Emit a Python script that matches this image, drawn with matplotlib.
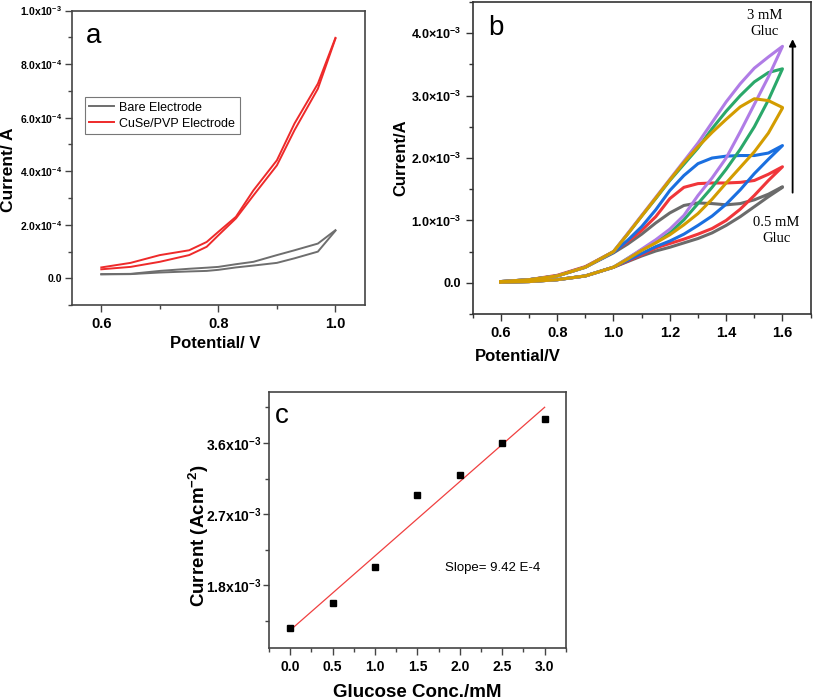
import numpy as np
import matplotlib
matplotlib.use("Agg")
import matplotlib.pyplot as plt
from matplotlib.ticker import MultipleLocator, FixedLocator, FixedFormatter

plt.rcParams['font.family'] = ['Liberation Sans', 'DejaVu Sans']
plt.rcParams['font.weight'] = 'bold'
plt.rcParams['axes.labelweight'] = 'bold'
plt.rcParams['mathtext.fontset'] = 'custom'
plt.rcParams['mathtext.rm'] = 'Liberation Sans'
plt.rcParams['mathtext.bf'] = 'Liberation Sans:bold'
plt.rcParams['mathtext.default'] = 'bf'

# ---- panel a: CV of bare vs CuSe/PVP electrode (current in A)
pot_a = [0.60, 0.65, 0.70, 0.75, 0.78, 0.80, 0.83, 0.86, 0.90, 0.93, 0.97, 1.00]
cuse_up = [4.1e-5, 5.8e-5, 8.7e-5, 1.05e-4, 1.36e-4, 1.74e-4, 2.30e-4, 3.29e-4, 4.41e-4, 5.78e-4, 7.27e-4, 8.98e-4]
cuse_dn = [3.4e-5, 4.3e-5, 6.2e-5, 8.7e-5, 1.18e-4, 1.61e-4, 2.24e-4, 3.10e-4, 4.22e-4, 5.53e-4, 7.08e-4, 8.95e-4]
bare_up = [1.6e-5, 1.7e-5, 2.8e-5, 3.6e-5, 4.0e-5, 4.3e-5, 5.3e-5, 6.2e-5, 8.7e-5, 1.05e-4, 1.30e-4, 1.80e-4]
bare_dn = [1.5e-5, 1.6e-5, 2.2e-5, 2.6e-5, 2.8e-5, 3.2e-5, 4.1e-5, 4.8e-5, 5.8e-5, 7.5e-5, 1.00e-4, 1.78e-4]
a_yticks = [0.0, 2e-4, 4e-4, 6e-4, 8e-4, 1e-3]
a_ylabels = ['0.0', r'2.0x10$^{-4}$', r'4.0x10$^{-4}$', r'6.0x10$^{-4}$', r'8.0x10$^{-4}$', r'1.0x10$^{-3}$']

# ---- panel b: CVs at increasing glucose (current in mA, upper / lower branch)
pot_b = [0.6, 0.7, 0.8, 0.9, 1.0, 1.05, 1.1, 1.15, 1.2, 1.25, 1.3, 1.35, 1.4, 1.45, 1.5, 1.55, 1.6]
gray_up = [0.02, 0.05, 0.11, 0.25, 0.48, 0.62, 0.78, 0.96, 1.12, 1.24, 1.28, 1.27, 1.25, 1.27, 1.33, 1.42, 1.54]
gray_dn = [0.01, 0.02, 0.05, 0.11, 0.25, 0.34, 0.43, 0.51, 0.57, 0.64, 0.71, 0.80, 0.92, 1.06, 1.22, 1.38, 1.53]
red_up = [0.02, 0.05, 0.12, 0.26, 0.50, 0.66, 0.84, 1.06, 1.35, 1.53, 1.59, 1.60, 1.60, 1.61, 1.64, 1.74, 1.86]
red_dn = [0.01, 0.02, 0.05, 0.11, 0.25, 0.35, 0.45, 0.56, 0.63, 0.70, 0.78, 0.87, 1.00, 1.18, 1.40, 1.64, 1.86]
blue_up = [0.02, 0.05, 0.11, 0.25, 0.49, 0.68, 0.90, 1.17, 1.48, 1.72, 1.91, 2.00, 2.03, 2.04, 2.04, 2.08, 2.20]
blue_dn = [0.01, 0.02, 0.05, 0.11, 0.25, 0.36, 0.47, 0.58, 0.67, 0.78, 0.92, 1.07, 1.26, 1.49, 1.75, 1.98, 2.20]
green_up = [0.02, 0.05, 0.11, 0.25, 0.50, 0.78, 1.07, 1.35, 1.64, 1.90, 2.16, 2.47, 2.75, 3.00, 3.22, 3.37, 3.43]
green_dn = [0.01, 0.02, 0.05, 0.11, 0.25, 0.39, 0.53, 0.65, 0.80, 1.01, 1.27, 1.53, 1.82, 2.14, 2.50, 2.93, 3.43]
purple_up = [0.02, 0.05, 0.11, 0.25, 0.50, 0.79, 1.08, 1.37, 1.66, 1.95, 2.24, 2.57, 2.90, 3.19, 3.44, 3.62, 3.79]
purple_dn = [0.01, 0.02, 0.05, 0.11, 0.25, 0.39, 0.54, 0.69, 0.86, 1.08, 1.40, 1.68, 2.00, 2.42, 2.86, 3.30, 3.79]
gold_up = [0.02, 0.05, 0.11, 0.25, 0.50, 0.78, 1.07, 1.36, 1.65, 1.93, 2.18, 2.41, 2.62, 2.82, 2.95, 2.92, 2.81]
gold_dn = [0.01, 0.02, 0.05, 0.11, 0.25, 0.38, 0.52, 0.64, 0.77, 0.93, 1.11, 1.34, 1.60, 1.85, 2.10, 2.40, 2.80]
b_yticks = [0.0, 1e-3, 2e-3, 3e-3, 4e-3]
b_ylabels = ['0.0', r'1.0×10$^{-3}$', r'2.0×10$^{-3}$', r'3.0×10$^{-3}$', r'4.0×10$^{-3}$']

# ---- panel c: calibration
gluc = [0.0, 0.5, 1.0, 1.5, 2.0, 2.5, 3.0]
cur_c = [1.253e-3, 1.572e-3, 2.024e-3, 2.94e-3, 3.198e-3, 3.60e-3, 3.90e-3]
c_yticks = [1.8e-3, 2.7e-3, 3.6e-3]
c_ylabels = [r'1.8x10$^{-3}$', r'2.7x10$^{-3}$', r'3.6x10$^{-3}$']

fig = plt.figure(figsize=(8.13, 7.0), dpi=100)

def style(ax, col='#333333'):
    for s in ax.spines.values():
        s.set_color(col)
        s.set_linewidth(1.2)
    ax.tick_params(which='both', direction='out', top=False, right=False, color=col, width=1.0)
    ax.tick_params(which='major', length=5)
    ax.tick_params(which='minor', length=3)

# panel a
ax1 = fig.add_axes([0.0886, 0.564, 0.360, 0.421])
ax1.plot(pot_a, bare_up, color='#6e6e6e', lw=1.4, label='Bare Electrode')
ax1.plot(pot_a, bare_dn, color='#6e6e6e', lw=1.4)
ax1.plot(pot_a, cuse_up, color='#ee2a2a', lw=1.4, label='CuSe/PVP Electrode')
ax1.plot(pot_a, cuse_dn, color='#ee2a2a', lw=1.4)
ax1.set_xlim(0.55, 1.05)
ax1.set_ylim(-1e-4, 1e-3)
ax1.xaxis.set_minor_locator(MultipleLocator(0.1))
ax1.yaxis.set_major_locator(FixedLocator(a_yticks))
ax1.yaxis.set_major_formatter(FixedFormatter(a_ylabels))
ax1.yaxis.set_minor_locator(MultipleLocator(1e-4))
ax1.set_xticks([0.6, 0.8, 1.0], ['0.6', '0.8', '1.0'])
style(ax1, '#444444')
ax1.tick_params(axis='x', labelsize=10.5)
ax1.tick_params(axis='y', labelsize=7.5, pad=2)
ax1.set_xlabel('Potential/ V', fontsize=12)
ax1.set_ylabel('Current/ A', fontsize=12.5)
ax1.xaxis.set_label_coords(0.49, -0.105)
ax1.yaxis.set_label_coords(-0.19, 0.46)
ax1.text(0.048, 0.915, 'a', transform=ax1.transAxes, fontsize=20, fontweight='normal', va='center')
leg = ax1.legend(loc='upper left', bbox_to_anchor=(0.044, 0.705), fancybox=False,
                 prop={'weight': 'normal', 'size': 9}, handlelength=2.0, borderpad=0.35,
                 labelspacing=0.3, handletextpad=0.4, borderaxespad=0)
leg.get_frame().set_edgecolor('#555555')
leg.get_frame().set_linewidth(0.8)

# panel b
ax2 = fig.add_axes([0.5814, 0.5514, 0.4157, 0.4457])
curves = [(gray_up, gray_dn, '#6b6b6b'), (red_up, red_dn, '#f0363a'),
          (blue_up, blue_dn, '#1a6fe0'), (green_up, green_dn, '#2aa86a'),
          (purple_up, purple_dn, '#b07ce6'), (gold_up, gold_dn, '#d39c00')]
for up, dn, col in curves:
    xs = list(pot_b) + list(pot_b[::-1])
    ys = [v * 1e-3 for v in dn] + [v * 1e-3 for v in up[::-1]]
    ax2.plot(xs, ys, color=col, lw=2.2, solid_joinstyle='round')
ax2.set_xlim(0.5, 1.7)
ax2.set_ylim(-0.5e-3, 4.5e-3)
ax2.xaxis.set_minor_locator(MultipleLocator(0.1))
ax2.set_xticks([0.6, 0.8, 1.0, 1.2, 1.4, 1.6], ['0.6', '0.8', '1.0', '1.2', '1.4', '1.6'])
ax2.yaxis.set_major_locator(FixedLocator(b_yticks))
ax2.yaxis.set_major_formatter(FixedFormatter(b_ylabels))
ax2.yaxis.set_minor_locator(MultipleLocator(0.5e-3))
style(ax2, '#333333')
ax2.tick_params(axis='x', labelsize=10.5)
ax2.tick_params(axis='y', labelsize=9)
ax2.set_xlabel('Potential/V', fontsize=12)
ax2.set_ylabel('Current/A', fontsize=12)
ax2.xaxis.set_label_coords(0.134, -0.112)
ax2.yaxis.set_label_coords(-0.191, 0.5)
ax2.text(0.045, 0.917, 'b', transform=ax2.transAxes, fontsize=20, fontweight='normal', va='center')
ax2.annotate('', xy=(1.636, 3.95e-3), xytext=(1.636, 1.4e-3),
             arrowprops=dict(arrowstyle='-|>', color='black', lw=1.3, mutation_scale=10))
ax2.text(1.536, 4.16e-3, '3 mM\nGluc', ha='center', va='center', fontsize=10.5,
         family='Liberation Serif', fontweight='normal', linespacing=1.3)
ax2.text(1.578, 0.84e-3, '0.5 mM\nGluc', ha='center', va='center', fontsize=10.5,
         family='Liberation Serif', fontweight='normal', linespacing=1.3)

# panel c
ax3 = fig.add_axes([0.331, 0.0739, 0.365, 0.3666])
k, b0 = np.polyfit(gluc, cur_c, 1)
xfit = np.array([gluc[0], gluc[-1]])
ax3.plot(xfit, k * xfit + b0, color='#f04040', lw=0.9)
ax3.plot(gluc, cur_c, 's', color='black', ms=5)
ax3.set_xlim(-0.25, 3.25)
ax3.set_ylim(1.0e-3, 4.25e-3)
ax3.xaxis.set_minor_locator(MultipleLocator(0.25))
ax3.set_xticks([0.0, 0.5, 1.0, 1.5, 2.0, 2.5, 3.0], ['0.0', '0.5', '1.0', '1.5', '2.0', '2.5', '3.0'])
ax3.yaxis.set_major_locator(FixedLocator(c_yticks))
ax3.yaxis.set_major_formatter(FixedFormatter(c_ylabels))
ax3.yaxis.set_minor_locator(FixedLocator([1.35e-3, 2.25e-3, 3.15e-3, 4.05e-3]))
style(ax3, '#444444')
ax3.tick_params(axis='both', labelsize=10)
ax3.tick_params(axis='y', which='major', length=4, pad=1.5)
ax3.set_xlabel('Glucose Conc./mM', fontsize=13.5)
ax3.set_ylabel(r'Current (Acm$^{-2}$)', fontsize=13.5)
ax3.xaxis.set_label_coords(0.50, -0.139)
ax3.yaxis.set_label_coords(-0.195, 0.44)
ax3.text(0.02, 0.905, 'c', transform=ax3.transAxes, fontsize=20, fontweight='normal', va='center')
ax3.text(1.82, 2.02e-3, 'Slope= 9.42 E-4', fontsize=9.5, fontweight='normal', va='center')

fig.savefig('out.png', dpi=100)
